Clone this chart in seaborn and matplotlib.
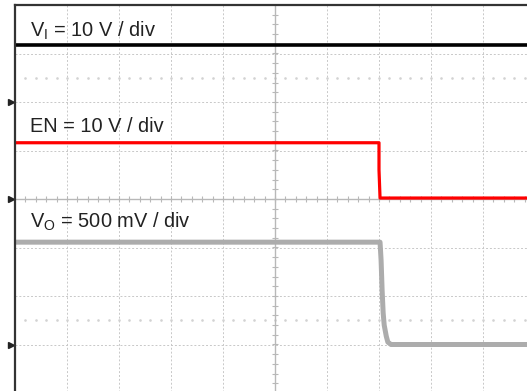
import matplotlib
matplotlib.use("Agg")
import matplotlib.pyplot as plt
import numpy as np
import seaborn as sns

# scope screen in divisions: 10 div across, 8 div tall (centre = 0)
vi_t = [0.0, 10.0]
vi_v = [3.18, 3.18]

en_t = [0.0, 7.0, 7.0, 7.02, 10.0]
en_v = [1.16, 1.16, 0.6, 0.02, 0.02]

vo_t = [0.0, 7.02, 7.04, 7.06, 7.08, 7.10, 7.14, 7.17, 7.23, 10.0]
vo_v = [-0.89, -0.89, -1.26, -1.88, -2.35, -2.6, -2.83, -2.95, -3.0, -3.0]

gnd_levels = [2.0, 0.0, -3.0]
label_text = [r"V$_\mathregular{I}$ = 10 V / div",
              "EN = 10 V / div",
              r"V$_\mathregular{O}$ = 500 mV / div"]
label_y = [3.34, 1.38, -0.6]

sns.set_style("white")
plt.rcParams['font.family'] = ['Liberation Sans', 'DejaVu Sans']
plt.rcParams['mathtext.default'] = 'regular'

fig = plt.figure(figsize=(5.27, 3.91), dpi=100)
ax = fig.add_axes([15/527, -2/391, 520/527, 388/391])
ax.set_xlim(0, 10)
ax.set_ylim(-4, 4)
ax.set_xticks([])
ax.set_yticks([])

# graticule
grid_kw = dict(color='#c8c8c8', lw=0.7, ls=(0, (2, 2)), zorder=0)
for gx in range(1, 10):
  if gx != 5:
    ax.axvline(gx, **grid_kw)
for gy in range(-3, 4):
  if gy != 0:
    ax.axhline(gy, **grid_kw)
for gy in [2.5, -2.5]:
  ax.plot(np.arange(0.2, 10, 0.2), np.full(49, gy), ls='none', marker='s',
          ms=0.8, color='#d2d2d2', zorder=0)
ax.axhline(0, color='#b8b8b8', lw=1.0, zorder=0)
ax.axvline(5, color='#b8b8b8', lw=1.0, zorder=0)
tk = np.arange(0.2, 10, 0.2)
ax.plot(tk, np.zeros_like(tk), ls='none', marker='|', ms=4, mew=0.8, color='#b8b8b8', zorder=0)
tk = np.arange(-3.8, 4, 0.2)
ax.plot(np.full_like(tk, 5), tk, ls='none', marker='_', ms=4, mew=0.8, color='#b8b8b8', zorder=0)

# traces
sns.lineplot(x=vi_t, y=vi_v, ax=ax, color='black', lw=2.6, sort=False, estimator=None)
sns.lineplot(x=en_t, y=en_v, ax=ax, color='#ff0000', lw=2.3, sort=False, estimator=None)
sns.lineplot(x=vo_t, y=vo_v, ax=ax, color='#acacac', lw=3.6, sort=False, estimator=None)

# ground markers
ax.plot(np.full(len(gnd_levels), -0.08), gnd_levels, ls='none', marker='>', ms=5,
        color='#222222', clip_on=False)

for txt, ty in zip(label_text, label_y):
  ax.text(0.29, ty, txt, fontsize=14.4, color='#222222', va='baseline', ha='left')

for s in ['left', 'top']:
  ax.spines[s].set_color('#333333')
  ax.spines[s].set_linewidth(1.6)
for s in ['right', 'bottom']:
  ax.spines[s].set_visible(False)

fig.savefig('out.png', dpi=100)
